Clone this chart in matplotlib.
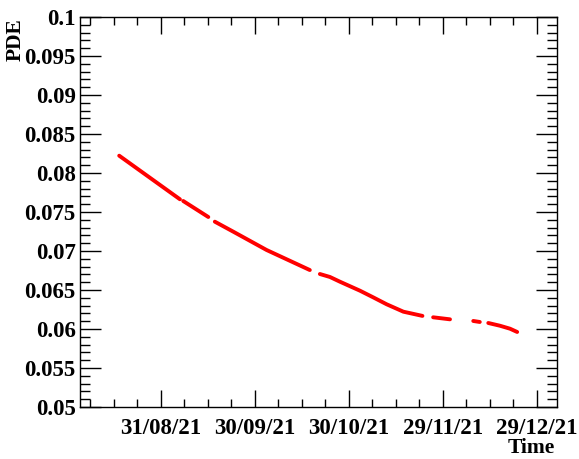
import numpy as np
import pandas as pd
import matplotlib
matplotlib.use('Agg')
import matplotlib.pyplot as plt
import matplotlib.dates as mdates
from matplotlib.ticker import MultipleLocator, FixedLocator

# PDE vs time, gaps in the data taking are kept as separate segments
seg_times = [
    ["2021-08-17 19:00", "2021-09-06 04:00"],
    ["2021-09-07 05:00", "2021-09-15 05:00"],
    ["2021-09-17 07:00", "2021-09-23 05:00", "2021-10-03 19:00", "2021-10-17 14:00"],
    ["2021-10-20 19:00", "2021-10-24 00:00", "2021-10-27 05:00", "2021-11-02 14:00",
     "2021-11-06 19:00", "2021-11-11 02:00", "2021-11-16 10:00", "2021-11-22 12:00"],
    ["2021-11-25 22:00", "2021-12-01 07:00"],
    ["2021-12-08 17:00", "2021-12-10 19:00"],
    ["2021-12-13 12:00", "2021-12-17 05:00", "2021-12-20 10:00", "2021-12-22 17:00"],
]
seg_pde = [
    [0.08222, 0.07663],
    [0.07641, 0.07436],
    [0.07376, 0.07247, 0.07013, 0.06756],
    [0.06705, 0.06667, 0.06606, 0.06491, 0.06406, 0.06317, 0.06222, 0.06168],
    [0.06150, 0.06124],
    [0.06103, 0.06090],
    [0.06077, 0.06042, 0.06004, 0.05962],
]

major_dates = ["2021-08-31", "2021-09-30", "2021-10-30", "2021-11-29", "2021-12-29"]
xmin, xmax = "2021-08-05 07:00", "2022-01-04 10:00"

font = 'Liberation Serif'

fig = plt.figure(figsize=(5.79, 4.59), dpi=100)
ax = fig.add_axes([80/579, 52/459, 477/579, 390/459])

for t, v in zip(seg_times, seg_pde):
    ax.plot(pd.to_datetime(t), v, color='red', lw=2.8, solid_capstyle='round')

ax.set_xlim(pd.Timestamp(xmin), pd.Timestamp(xmax))
ax.set_ylim(0.05, 0.1)

maj = mdates.date2num(pd.to_datetime(major_dates))
step = (maj[1] - maj[0]) / 4
minor = np.arange(maj[0] - 4 * step, maj[-1] + 2 * step, step)
ax.xaxis.set_major_locator(FixedLocator(maj))
ax.xaxis.set_minor_locator(FixedLocator(minor))
ax.xaxis.set_major_formatter(mdates.DateFormatter('%d/%m/%y'))
ax.yaxis.set_minor_locator(MultipleLocator(0.001))
ax.set_yticks([0.05, 0.055, 0.06, 0.065, 0.07, 0.075, 0.08, 0.085, 0.09, 0.095, 0.1])
ax.set_yticklabels(['0.05', '0.055', '0.06', '0.065', '0.07', '0.075', '0.08',
                    '0.085', '0.09', '0.095', '0.1'])

ax.tick_params(which='both', direction='in', top=True, right=True, width=1)
ax.tick_params(axis='x', which='major', length=12, pad=8)
ax.tick_params(axis='x', which='minor', length=6)
ax.tick_params(axis='y', which='major', length=15, pad=3)
ax.tick_params(axis='y', which='minor', length=7)
for lab in ax.get_xticklabels() + ax.get_yticklabels():
    lab.set_fontfamily(font)
    lab.set_fontweight('bold')
    lab.set_fontsize(16.5)
for s in ax.spines.values():
    s.set_linewidth(1)

fig.text(555/579, 1 - 448/459, 'Time', ha='right', va='center',
         fontfamily=font, fontweight='bold', fontsize=15.5)
fig.text(16/579, 1 - 18/459, 'PDE', ha='center', va='top', rotation=90,
         fontfamily=font, fontweight='bold', fontsize=15.5)

fig.savefig('out.png', dpi=100)
